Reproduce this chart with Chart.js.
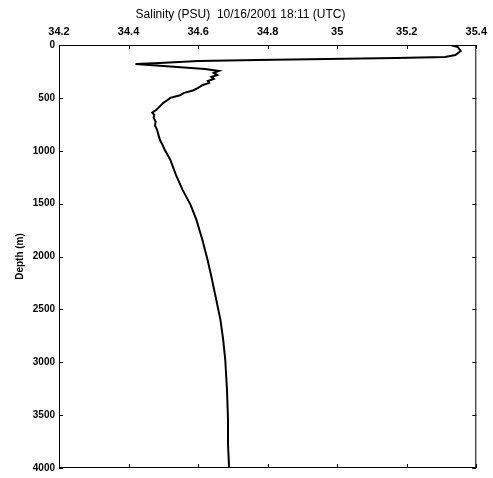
<!DOCTYPE html>
<html>
<head>
<meta charset="utf-8">
<script src="https://cdn.jsdelivr.net/npm/chart.js@4.4.0/dist/chart.umd.min.js"></script>
<style>
  html, body { margin: 0; padding: 0; background: #fff; }
  #wrap { width: 493px; height: 478px; }
</style>
</head>
<body>
<div id="wrap"><canvas id="profile"></canvas></div>
<script>
// salinity profile, values
const depthM = [0, 19, 57, 94, 113, 123, 132, 142, 151, 170, 179, 189, 208, 226, 245,
  264, 283, 302, 321, 340, 358, 380, 406, 430, 453, 475, 500, 525, 547, 580, 613,
  640, 660, 690, 726, 760, 802, 850, 896, 940, 990, 1085, 1226, 1368, 1509, 1651,
  1840, 2028, 2217, 2406, 2594, 2783, 2972, 3255, 3538, 3774, 3990];
const salinityPsu = [35.327, 35.347, 35.355, 35.34, 35.31, 35.17, 34.97, 34.77, 34.60, 34.49,
  34.42, 34.46, 34.54, 34.62, 34.66,
  34.645, 34.655, 34.638, 34.645, 34.628, 34.632, 34.612, 34.60, 34.585, 34.56, 34.548, 34.52,
  34.51, 34.50, 34.49, 34.48,
  34.468, 34.474, 34.472, 34.478, 34.476, 34.482, 34.486, 34.49, 34.497, 34.504, 34.52, 34.536,
  34.555, 34.578, 34.595,
  34.612, 34.627, 34.64, 34.652, 34.664, 34.672, 34.678, 34.683, 34.686, 34.686, 34.689];

const salinityTicks = [34.2, 34.4, 34.6, 34.8, 35, 35.2, 35.4];
const depthTicks = [0, 500, 1000, 1500, 2000, 2500, 3000, 3500, 4000];

const points = depthM.map((d, i) => ({ x: salinityPsu[i], y: d }));

// frame and inward tick marks on all four sides
const frameTicks = {
  id: 'frameTicks',
  afterDraw(chart) {
    const ctx = chart.ctx;
    const area = chart.chartArea;
    const xs = chart.scales.x;
    const ys = chart.scales.y;
    ctx.save();
    ctx.strokeStyle = '#000';
    ctx.lineWidth = 1;
    ctx.strokeRect(area.left + 0.5, area.top + 0.5, area.right - area.left - 1, area.bottom - area.top - 1);
    ctx.beginPath();
    salinityTicks.forEach(v => {
      const px = Math.round(xs.getPixelForValue(v)) + 0.5;
      ctx.moveTo(px, area.top); ctx.lineTo(px, area.top + 4);
      ctx.moveTo(px, area.bottom); ctx.lineTo(px, area.bottom - 4);
    });
    depthTicks.forEach(v => {
      const py = Math.round(ys.getPixelForValue(v)) + 0.5;
      ctx.moveTo(area.left, py); ctx.lineTo(area.left + 4, py);
      ctx.moveTo(area.right, py); ctx.lineTo(area.right - 4, py);
    });
    ctx.stroke();
    ctx.restore();
  }
};

new Chart(document.getElementById('profile'), {
  type: 'scatter',
  data: {
    datasets: [{
      data: points,
      showLine: true,
      borderColor: '#000',
      borderWidth: 2,
      pointRadius: 0,
      tension: 0
    }]
  },
  options: {
    responsive: true,
    maintainAspectRatio: false,
    animation: false,
    layout: { padding: { left: 0, right: 12, bottom: 10, top: 0 } },
    plugins: {
      legend: { display: false },
      tooltip: { enabled: false },
      title: {
        display: true,
        text: 'Salinity (PSU)  10/16/2001 18:11 (UTC)',
        color: '#000',
        font: { family: 'Liberation Sans, Arial, sans-serif', size: 12, weight: 'normal' },
        padding: { top: 7, bottom: 3 }
      }
    },
    scales: {
      x: {
        type: 'linear',
        position: 'top',
        min: 34.2,
        max: 35.4,
        afterBuildTicks: s => { s.ticks = salinityTicks.map(v => ({ value: v })); },
        afterFit: s => { s.height = 45 - 24.4; },
        grid: { display: false, drawTicks: false },
        border: { display: false },
        ticks: {
          color: '#000',
          padding: 6,
          maxRotation: 0,
          font: { family: 'Liberation Sans, Arial, sans-serif', size: 11, weight: 'bold' },
          callback: v => String(v)
        }
      },
      y: {
        type: 'linear',
        reverse: true,
        min: 0,
        max: 4000,
        afterBuildTicks: s => { s.ticks = depthTicks.map(v => ({ value: v })); },
        afterFit: s => { s.width = 59; },
        grid: { display: false, drawTicks: false },
        border: { display: false },
        title: {
          display: true,
          text: 'Depth (m)',
          color: '#000',
          font: { family: 'Liberation Sans, Arial, sans-serif', size: 10, weight: 'bold' },
          padding: { top: 14, bottom: 4 }
        },
        ticks: {
          color: '#000',
          padding: 4,
          font: { family: 'Liberation Sans, Arial, sans-serif', size: 10, weight: 'bold' },
          callback: v => String(v)
        }
      }
    }
  },
  plugins: [frameTicks]
});
</script>
</body>
</html>
